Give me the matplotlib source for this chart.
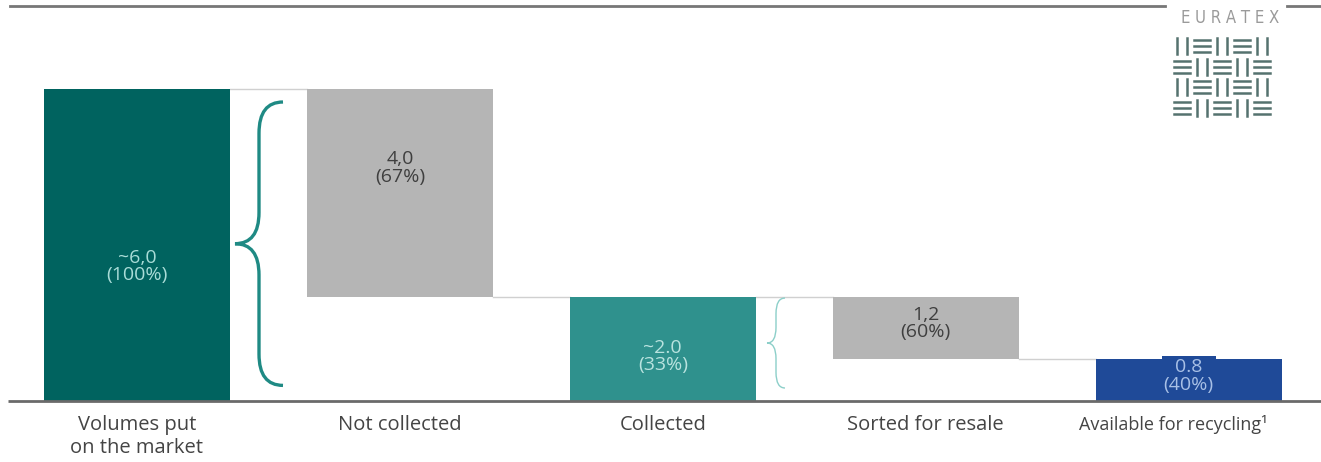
import matplotlib
matplotlib.use("Agg")
import matplotlib.pyplot as plt
from matplotlib.path import Path
from matplotlib.patches import PathPatch
from matplotlib.lines import Line2D

plt.rcParams['font.family'] = ['Open Sans', 'DejaVu Sans']

# data (million tonnes)
categories = ["Volumes put\non the market", "Not collected", "Collected",
              "Sorted for resale", "Available for recycling\u00b9"]
values = [6.0, 4.0, 2.0, 1.2, 0.8]
bottoms = [0.0, 6.0 - 4.0, 0.0, 2.0 - 1.2, 0.0]
value_labels = ["~6,0", "4,0", "~2.0", "1,2", "0.8"]
share_labels = ["(100%)", "(67%)", "(33%)", "(60%)", "(40%)"]

bar_colors = ["#00635f", "#b5b5b5", "#2f918d", "#b5b5b5", "#1f4a98"]
text_colors = ["#a9dcd7", "#3f3f3f", "#b9e3df", "#3f3f3f", "#a8c0e6"]
# where the label sits inside each bar, as a share of bar height
label_frac = [0.43, 0.62, 0.43, 0.58, 0.6]

W, H = 1321, 462
fig = plt.figure(figsize=(W / 100, H / 100), dpi=100)
ax = fig.add_axes([0, 0, 1, 1])
ax.set_axis_off()

# pixel mapping: centre of bar 0 at x=137px, step 262.9px; baseline 401px, 52px per unit
step = 262.9
ax.set_xlim(-137 / step, (W - 137) / step)
ax.set_ylim(-(H - 401) / 52, 401 / 52)

width = 0.708
xs = list(range(len(values)))
ax.bar(xs, values, bottom=bottoms, width=width, color=bar_colors, zorder=2)

# connector lines between bars
levels = [bottoms[i] + values[i] if i in (0, 2) else bottoms[i] for i in range(len(values) - 1)]
for i, lv in enumerate(levels):
    ax.plot([i + width / 2, i + 1 - width / 2], [lv, lv], color="#d0d0d0", lw=1, zorder=1)

# labels inside bars
for i in xs:
    y = bottoms[i] + values[i] * label_frac[i]
    box = None
    if i == 4:
        box = dict(boxstyle="square,pad=0.1", fc=bar_colors[i], ec="none")
    ax.text(i, y, value_labels[i] + "\n" + share_labels[i], ha="center", va="center",
            fontsize=14, color=text_colors[i], linespacing=0.95, zorder=3, bbox=box)

# category labels
for i in xs:
    fs = 13 if i == 4 else 14.5
    ax.text(i - (0.06 if i == 4 else 0), -0.27, categories[i], ha="center", va="top",
            fontsize=fs, color="#444444", linespacing=1.2)

# baseline
ax.plot([(8 - 137) / step, 4.6], [0, 0], color="#6a6a6a", lw=2, zorder=4,
        solid_capstyle="butt")


def brace(x_tip, x_end, y_bot, y_top, r, color, lw):
    y_mid = (y_bot + y_top) / 2
    x_m = (x_tip + x_end) / 2
    verts = [(x_end, y_top), (x_m, y_top), (x_m, y_top - r),
             (x_m, y_mid + r),
             (x_m, y_mid), (x_tip, y_mid),
             (x_m, y_mid), (x_m, y_mid - r),
             (x_m, y_bot + r),
             (x_m, y_bot), (x_end, y_bot)]
    codes = [Path.MOVETO, Path.CURVE3, Path.CURVE3, Path.LINETO,
             Path.CURVE3, Path.CURVE3, Path.CURVE3, Path.CURVE3,
             Path.LINETO, Path.CURVE3, Path.CURVE3]
    ax.add_patch(PathPatch(Path(verts, codes), fc="none", ec=color, lw=lw, zorder=3))


px = lambda p: (p - 137) / step
brace(px(235), px(283), 0.3, values[0] - 0.25, 0.6, "#1f8a84", 2.4)
brace(px(767), px(785), 0.25, values[2] - 0.02, 0.3, "#8ccfc9", 1.0)

# top rule (title cut off) and logo
fig.add_artist(Line2D([10 / W, 1165 / W], [1 - 6 / H, 1 - 6 / H], color="#777777", lw=2))
fig.add_artist(Line2D([1287 / W, 1.0], [1 - 6 / H, 1 - 6 / H], color="#777777", lw=2))
fig.text(1230 / W, 1 - 18 / H, "E U R A T E X", ha="center", va="center",
         fontsize=12, color="#9a9a9a", family="DejaVu Sans", fontstretch="condensed")

cw, ch = 20 / W, 20.5 / H
x0, y0 = 1172 / W, 1 - 36 / H
for r in range(4):
    for c in range(5):
        cx = x0 + c * cw
        cy = y0 - r * ch
        if (r + c) % 2 == 0:
            for dx in (0.25, 0.75):
                fig.add_artist(Line2D([cx + dx * cw, cx + dx * cw], [cy - 0.1 * ch, cy - 0.9 * ch],
                                      color="#55726f", lw=1.8))
        else:
            for dy in (0.2, 0.5, 0.8):
                fig.add_artist(Line2D([cx + 0.1 * cw, cx + 0.9 * cw], [cy - dy * ch, cy - dy * ch],
                                      color="#55726f", lw=1.8))

fig.savefig("out.png", dpi=100)
